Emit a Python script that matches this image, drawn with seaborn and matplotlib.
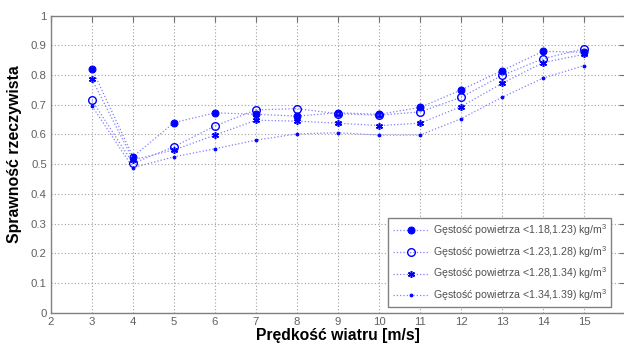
import matplotlib
matplotlib.use("Agg")
import matplotlib.pyplot as plt
import seaborn as sns
import pandas as pd

speed = [3, 4, 5, 6, 7, 8, 9, 10, 11, 12, 13, 14, 15]
s1 = [0.821, 0.525, 0.640, 0.673, 0.668, 0.662, 0.673, 0.668, 0.691, 0.750, 0.815, 0.880, 0.877]
s2 = [0.715, 0.503, 0.559, 0.629, 0.683, 0.687, 0.670, 0.665, 0.676, 0.725, 0.799, 0.855, 0.889]
s3 = [0.786, 0.515, 0.548, 0.598, 0.648, 0.645, 0.638, 0.630, 0.638, 0.694, 0.772, 0.842, 0.870]
s4 = [0.696, 0.488, 0.525, 0.552, 0.581, 0.602, 0.606, 0.598, 0.598, 0.653, 0.725, 0.790, 0.832]
labels = [
    "Gęstość powietrza <1.18,1.23) kg/m$^3$",
    "Gęstość powietrza <1.23,1.28) kg/m$^3$",
    "Gęstość powietrza <1.28,1.34) kg/m$^3$",
    "Gęstość powietrza <1.34,1.39) kg/m$^3$",
]
xticks = list(range(2, 17))
yticks = [0, 0.1, 0.2, 0.3, 0.4, 0.5, 0.6, 0.7, 0.8, 0.9, 1]
ytick_labels = ["0", "0.1", "0.2", "0.3", "0.4", "0.5", "0.6", "0.7", "0.8", "0.9", "1"]
xlabel = "Prędkość wiatru [m/s]"
ylabel = "Sprawność rzeczywista"

sns.set_theme(style="white")
plt.rcParams["font.family"] = ["Liberation Sans", "DejaVu Sans"]
plt.rcParams["mathtext.fontset"] = "custom"
plt.rcParams["mathtext.rm"] = "Liberation Sans"

fig = plt.figure(figsize=(6.24, 3.47), dpi=100)
ax = fig.add_axes([0.0817, 0.0988, 0.92, 0.856])

styles = [
    dict(marker="o", markersize=5, markerfacecolor="blue", markeredgecolor="blue"),
    dict(marker="o", markersize=5.5, markerfacecolor="none", markeredgecolor="blue", markeredgewidth=1.0),
    dict(marker=(6, 2, 0), markersize=5, markerfacecolor="blue", markeredgecolor="blue", markeredgewidth=1.1),
    dict(marker=".", markersize=4, markerfacecolor="blue", markeredgecolor="blue"),
]
series = [s1, s2, s3, s4]
for vals, lab, st in zip(series, labels, styles):
    df = pd.DataFrame({"x": speed, "y": vals})
    sns.lineplot(data=df, x="x", y="y", ax=ax, color=(0.5, 0.5, 1.0),
                 linestyle=":", linewidth=0.9, label=lab, **st)

ax.set_xlim(2, 16)
ax.set_ylim(0, 1)
ax.set_xticks(xticks)
ax.set_xticklabels([str(t) if t < 16 else "" for t in xticks])
ax.set_yticks(yticks)
ax.set_yticklabels(ytick_labels)
ax.grid(True, linestyle=(0, (1, 2)), color="#a0a0a0", linewidth=0.8)
ax.tick_params(direction="in", top=True, right=True, length=4, width=0.8,
               color="#707070", labelsize=8.2, labelcolor="#606060", pad=3)
for sp in ax.spines.values():
    sp.set_color("#808080")
    sp.set_linewidth(1.0)

ax.set_xlabel(xlabel, fontsize=11.3, fontweight="bold", color="black", labelpad=1)
ax.set_ylabel(ylabel, fontsize=11.4, fontweight="bold", color="black")
ax.yaxis.set_label_coords(-0.05, 0.535)

leg = ax.legend(loc="lower right", bbox_to_anchor=(0.976, 0.019), fontsize=7.6,
                frameon=True, fancybox=False, framealpha=1, edgecolor="#808080",
                handlelength=3.4, handletextpad=0.4, borderpad=0.4, labelspacing=0.55,
                borderaxespad=0)
leg.get_frame().set_linewidth(1.0)
for t in leg.get_texts():
    t.set_color("#505050")

fig.savefig("out.png", dpi=100)
